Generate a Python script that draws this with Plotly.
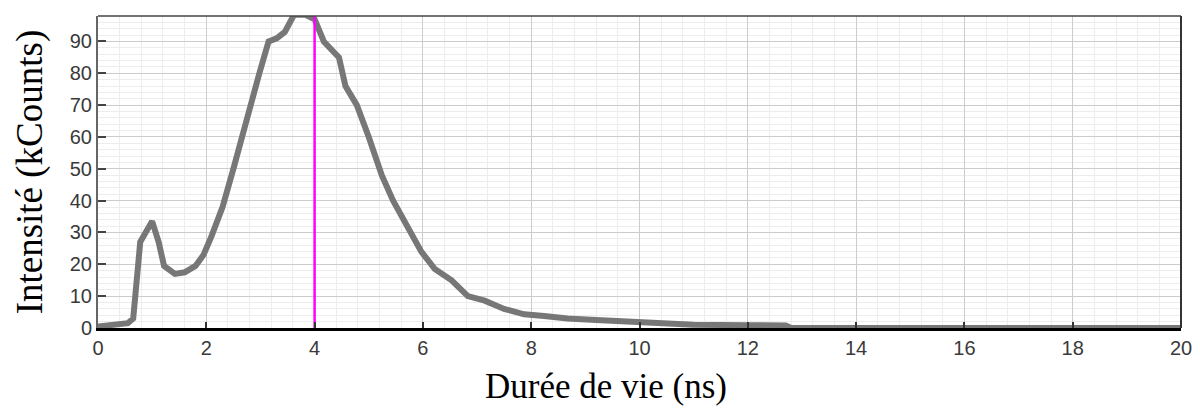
import plotly.graph_objects as go

# Lifetime (ns) and intensity (kCounts)
duree_ns = [0.0, 0.3, 0.55, 0.65, 0.72, 0.78, 0.88, 1.0, 1.12, 1.22, 1.42, 1.6, 1.8,
            1.95, 2.1, 2.3, 2.5, 2.73, 2.98, 3.15, 3.3, 3.45, 3.62, 3.83, 4.0, 4.17,
            4.35, 4.45, 4.57, 4.78, 5.0, 5.24, 5.45, 5.67, 5.97, 6.22, 6.53, 6.83,
            7.14, 7.5, 7.87, 8.24, 8.67, 9.2, 9.95, 10.3, 11.0, 12.0, 12.7, 12.8, 20.0]
intensite_kcounts = [0.5, 1.0, 1.5, 3, 17, 27, 30, 33.5, 27, 19.5, 17, 17.5, 19.5,
                     23, 29, 38, 50, 65, 80, 90, 91, 93, 98.4, 98.4, 97, 90,
                     87, 85, 76, 70, 60, 48, 40, 33.5, 24, 18.5, 15, 10,
                     8.6, 6, 4.3, 3.8, 3, 2.5, 1.8, 1.2, 1.0, 0.9, 0.8, 0.0, 0.0]

marker_x = [4.0, 4.0]
marker_y = [0.0, 98.0]

x_ticks = [0, 2, 4, 6, 8, 10, 12, 14, 16, 18, 20]
y_ticks = [0, 10, 20, 30, 40, 50, 60, 70, 80, 90]

fig = go.Figure()
fig.add_trace(go.Scatter(x=duree_ns, y=intensite_kcounts, mode="lines",
                         line=dict(color="#777777", width=6), hoverinfo="skip"))
fig.add_trace(go.Scatter(x=marker_x, y=marker_y, mode="lines",
                         line=dict(color="#ff00ff", width=2.5), hoverinfo="skip"))

tick_font = dict(family="Liberation Sans, Arial", size=20, color="#3a3a3a")

# page body has an 8px default margin, so the figure is offset by 8px
fig.update_layout(
    width=1192, height=400,
    margin=dict(l=90, r=13, t=8, b=80),
    paper_bgcolor="white", plot_bgcolor="white",
    showlegend=False,
    xaxis=dict(range=[0, 20], tickvals=x_ticks, ticktext=[str(v) for v in x_ticks],
               showgrid=True, gridcolor="#cccccc", gridwidth=1,
               minor=dict(dtick=0.4, showgrid=True, gridcolor="#ededed", gridwidth=1),
               ticks="inside", ticklen=6, tickcolor="#333333", tickwidth=2,
               showline=True, linecolor="#000000", linewidth=3,
               tickfont=tick_font, zeroline=False, fixedrange=True),
    yaxis=dict(range=[0, 98], tickvals=y_ticks, ticktext=[str(v) for v in y_ticks],
               showgrid=True, gridcolor="#cccccc", gridwidth=1,
               minor=dict(dtick=2, showgrid=True, gridcolor="#ededed", gridwidth=1),
               ticks="inside", ticklen=8, tickcolor="#444444", tickwidth=1.5,
               showline=True, linecolor="#666666", linewidth=2,
               tickfont=tick_font, zeroline=False, fixedrange=True),
    shapes=[
        dict(type="line", xref="paper", yref="paper", x0=0, x1=1, y0=1, y1=1,
             line=dict(color="#444444", width=1.5)),
        dict(type="line", xref="paper", yref="paper", x0=1, x1=1, y0=0, y1=1,
             line=dict(color="#333333", width=2)),
    ],
    annotations=[
        dict(text="Durée de vie (ns)", xref="paper", yref="paper",
             x=(609 - 98) / 1089, y=-57 / 304, xanchor="center", yanchor="middle",
             showarrow=False,
             font=dict(family="Liberation Serif, Times New Roman", size=35, color="#000000")),
        dict(text="Intensité (kCounts)", xref="paper", yref="paper",
             x=(30 - 98) / 1089, y=0.5, xanchor="center", yanchor="middle", textangle=-90,
             showarrow=False,
             font=dict(family="Liberation Serif, Times New Roman", size=37, color="#000000")),
    ],
)

fig.write_html("out.html")
